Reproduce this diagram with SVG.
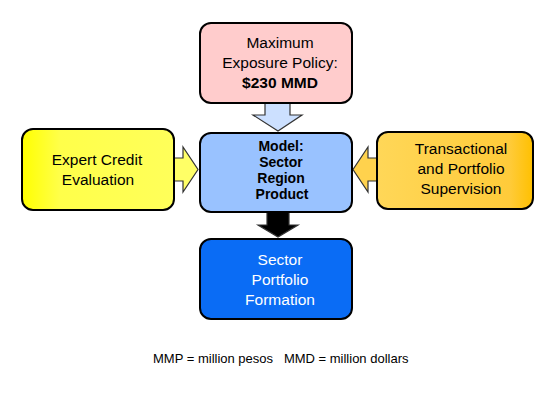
<svg xmlns="http://www.w3.org/2000/svg" width="559" height="396" viewBox="0 0 559 396">
<defs>
<linearGradient id="gy" x1="0" y1="0" x2="1" y2="0">
<stop offset="0" stop-color="#FFFF00"/>
<stop offset="0.25" stop-color="#FFFF4A"/>
<stop offset="1" stop-color="#FFFF5A"/>
</linearGradient>
<linearGradient id="go" x1="0" y1="0" x2="1" y2="0">
<stop offset="0" stop-color="#FFD758"/>
<stop offset="0.85" stop-color="#FFCB3A"/>
<stop offset="1" stop-color="#FFC000"/>
</linearGradient>
<style>
.box{stroke:#000;stroke-width:2}
.arr{stroke:#333;stroke-width:1.2;stroke-linejoin:miter}
text{font-family:"Liberation Sans",Arial,sans-serif;font-size:15.5px;text-anchor:middle;fill:#000}
.b{font-weight:bold}
.m{font-weight:bold;font-size:14px}
.w{fill:#fff}
.foot{font-size:13px;text-anchor:start;white-space:pre}
</style>
</defs>
<rect width="559" height="396" fill="#fff"/>
<g id="connectors">
<polygon class="arr" fill="#CCE0FF" points="265,103 290,103 290,115 302,115 278,131 253,115 265,115"/>
<polygon class="arr" fill="#000" points="267,212 289,212 289,225 298,225 278,237 258,225 267,225"/>
<polygon class="arr" fill="#FFFF66" points="174,158 183,158 183,147 198,169.5 183,192 183,181 174,181"/>
<polygon class="arr" fill="#FFD24D" points="377,158 368,158 368,147 353,169.5 368,192 368,181 377,181"/>
</g>
<g id="policy">
<rect class="box" x="200" y="23" width="152" height="80" rx="11" fill="#FFCCCC"/>
<text x="280" y="48">Maximum</text>
<text x="280" y="68">Exposure Policy:</text>
<text x="280" y="88" class="b">$230 MMD</text>
</g>
<g id="model">
<rect class="box" x="200" y="133" width="152" height="79" rx="11" fill="#99C2FF"/>
<text x="281" y="151" class="m">Model:</text>
<text x="281" y="167" class="m">Sector</text>
<text x="281" y="183" class="m">Region</text>
<text x="282" y="199" class="m">Product</text>
</g>
<g id="expert">
<rect class="box" x="22" y="129" width="152" height="81" rx="11" fill="url(#gy)"/>
<text x="97" y="165">Expert Credit</text>
<text x="98" y="185">Evaluation</text>
</g>
<g id="supervision">
<rect class="box" x="377" y="132" width="156" height="77" rx="11" fill="url(#go)"/>
<text x="461" y="154">Transactional</text>
<text x="461" y="174">and Portfolio</text>
<text x="461" y="194">Supervision</text>
</g>
<g id="formation">
<rect class="box" x="200" y="239" width="152" height="80" rx="11" fill="#0A6CF5"/>
<text x="280" y="265" class="w">Sector</text>
<text x="280" y="285" class="w">Portfolio</text>
<text x="280" y="305" class="w">Formation</text>
</g>
<text x="153" y="363" class="foot">MMP = million pesos   MMD = million dollars</text>
</svg>
